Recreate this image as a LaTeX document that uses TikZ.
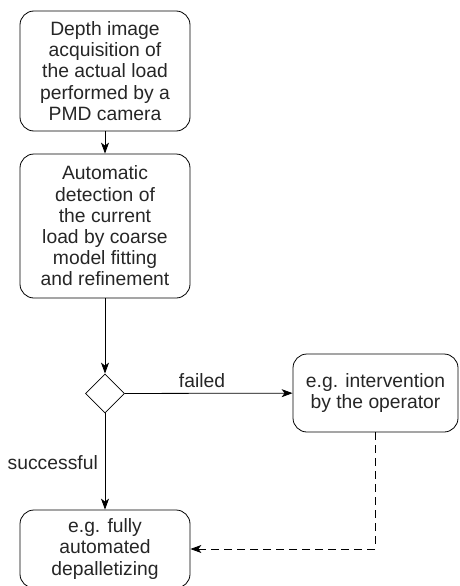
\documentclass[tikz,border=0pt]{standalone}
\usepackage{fontspec}
\setmainfont{Liberation Sans}
\usetikzlibrary{shapes.geometric,arrows.meta}
\begin{document}
\begin{tikzpicture}[x=1pt,y=-1pt,
  every node/.style={font=\fontsize{19.3}{21.2}\selectfont, text=black!85},
  procbox/.style={draw, line width=0.8pt, rounded corners=14pt, align=center, inner sep=0pt},
  decision/.style={draw, line width=0.8pt, diamond, aspect=1, minimum width=39pt, minimum height=39pt, inner sep=0pt},
  conn/.style={line width=0.8pt, -{Stealth[length=11pt,width=8pt,inset=3pt]}},
  lbl/.style={inner sep=0pt}
]
\useasboundingbox (0,0) rectangle (460,586);
\node[procbox, minimum width=170pt, minimum height=120pt] (acq) at (105,71)
  {Depth image\\acquisition of\\the actual load\\performed by a\\PMD camera};
\node[procbox, minimum width=170pt, minimum height=144pt] (det) at (105,226)
  {Automatic\\detection of\\the current\\load by coarse\\model fitting\\and refinement};
\node[decision] (dec) at (105,393.5) {};
\node[procbox, minimum width=165pt, minimum height=78pt] (op) at (375.5,393)
  {e.g. intervention\\by the operator};
\node[procbox, minimum width=170pt, minimum height=78pt] (auto) at (105,549)
  {e.g. fully\\automated\\depalletizing};
\draw[conn] (acq) -- (det);
\draw[conn] (det) -- (dec);
\draw[conn] (dec) -- (op);
\draw[conn] (dec) -- (auto);
\coordinate (bend) at (op.south |- auto.east);
\draw[conn, dashed, dash pattern=on 8pt off 5pt] (op.south) -- (bend) -- (auto.east);
\node[lbl] (failed) at (202,381) {failed};
\node[lbl, anchor=east] (succ) at (98,463) {successful};
\end{tikzpicture}
\end{document}
